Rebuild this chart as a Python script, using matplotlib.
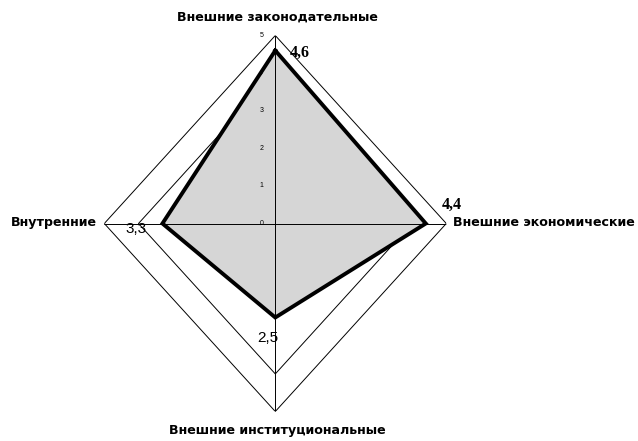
import numpy as np
import matplotlib
matplotlib.use('Agg')
import matplotlib.pyplot as plt

categories = ['Внешние законодательные', 'Внешние экономические',
              'Внешние институциональные', 'Внутренние']
values = [4.6, 4.4, 2.5, 3.3]
value_labels = ['4,6', '4,4', '2,5', '3,3']
scale_ticks = [0, 1, 2, 3, 4, 5]
grid_levels = [4, 5]
r_max = 5

W, H = 638, 441
fig = plt.figure(figsize=(W / 100, H / 100), dpi=100)
fig.patch.set_facecolor('white')
cx, cy = 275.3, 223.5
rx, ry = 171, 188
ax = fig.add_axes([(cx - rx) / W, (H - cy - ry) / H, 2 * rx / W, 2 * ry / H],
                  projection='polar')
ax.set_aspect('auto')
ax.set_theta_zero_location('N')
ax.set_theta_direction(-1)
ax.set_xticks([])
ax.set_yticks([])
ax.spines['polar'].set_visible(False)
ax.grid(False)
ax.patch.set_visible(False)

n = len(categories)
theta = np.arange(n) * 2 * np.pi / n
theta_c = np.append(theta, theta[0])
vals_c = np.append(values, values[0])

# grid diamonds
for lvl in grid_levels:
    ax.plot(theta_c, [lvl] * len(theta_c), color='black', lw=0.7,
            zorder=1 if lvl < r_max else 3)

# data fill
ax.fill(theta_c, vals_c, color='#d6d6d6', lw=0, zorder=2)

# spokes
for t in theta:
    ax.plot([t, t], [0, r_max], color='black', lw=0.7, zorder=3)

# data line
ax.plot(theta_c, vals_c, color='black', lw=2.8, zorder=5,
        solid_joinstyle='miter')

# scale tick labels along the top axis
for v in scale_ticks:
    ax.annotate(str(v), xy=(theta[0], v), xytext=(-14, 0),
                textcoords='offset pixels', ha='center', va='center',
                fontsize=5, family='Liberation Sans', zorder=4)

# category labels
cat_off = [(2, 18), (7, 1), (2, -19), (-7, 1)]
cat_ha = ['center', 'left', 'center', 'right']
for t, c, off, ha in zip(theta, categories, cat_off, cat_ha):
    ax.annotate(c, xy=(t, r_max), xytext=off, textcoords='offset pixels',
                ha=ha, va='center', fontsize=9.1, fontweight='bold',
                family='DejaVu Sans', annotation_clip=False)

# value labels
val_off = [(14, -2.5), (16, 18.5), (3, -20), (-15.7, -5.5)]
val_ha = ['left', 'left', 'right', 'right']
val_font = [('Liberation Serif', 'bold', 11.5), ('Liberation Serif', 'bold', 11.5),
            ('Liberation Sans', 'normal', 11), ('Liberation Sans', 'normal', 11)]
for t, v, lab, off, ha, (fam, fw, fs) in zip(theta, values, value_labels,
                                           val_off, val_ha, val_font):
    ax.annotate(lab, xy=(t, v), xytext=off, textcoords='offset pixels',
                ha=ha, va='center', fontsize=fs, fontweight=fw, family=fam,
                zorder=6, annotation_clip=False)

ax.set_ylim(0, r_max)
fig.savefig('out.png', dpi=100, facecolor='white')
